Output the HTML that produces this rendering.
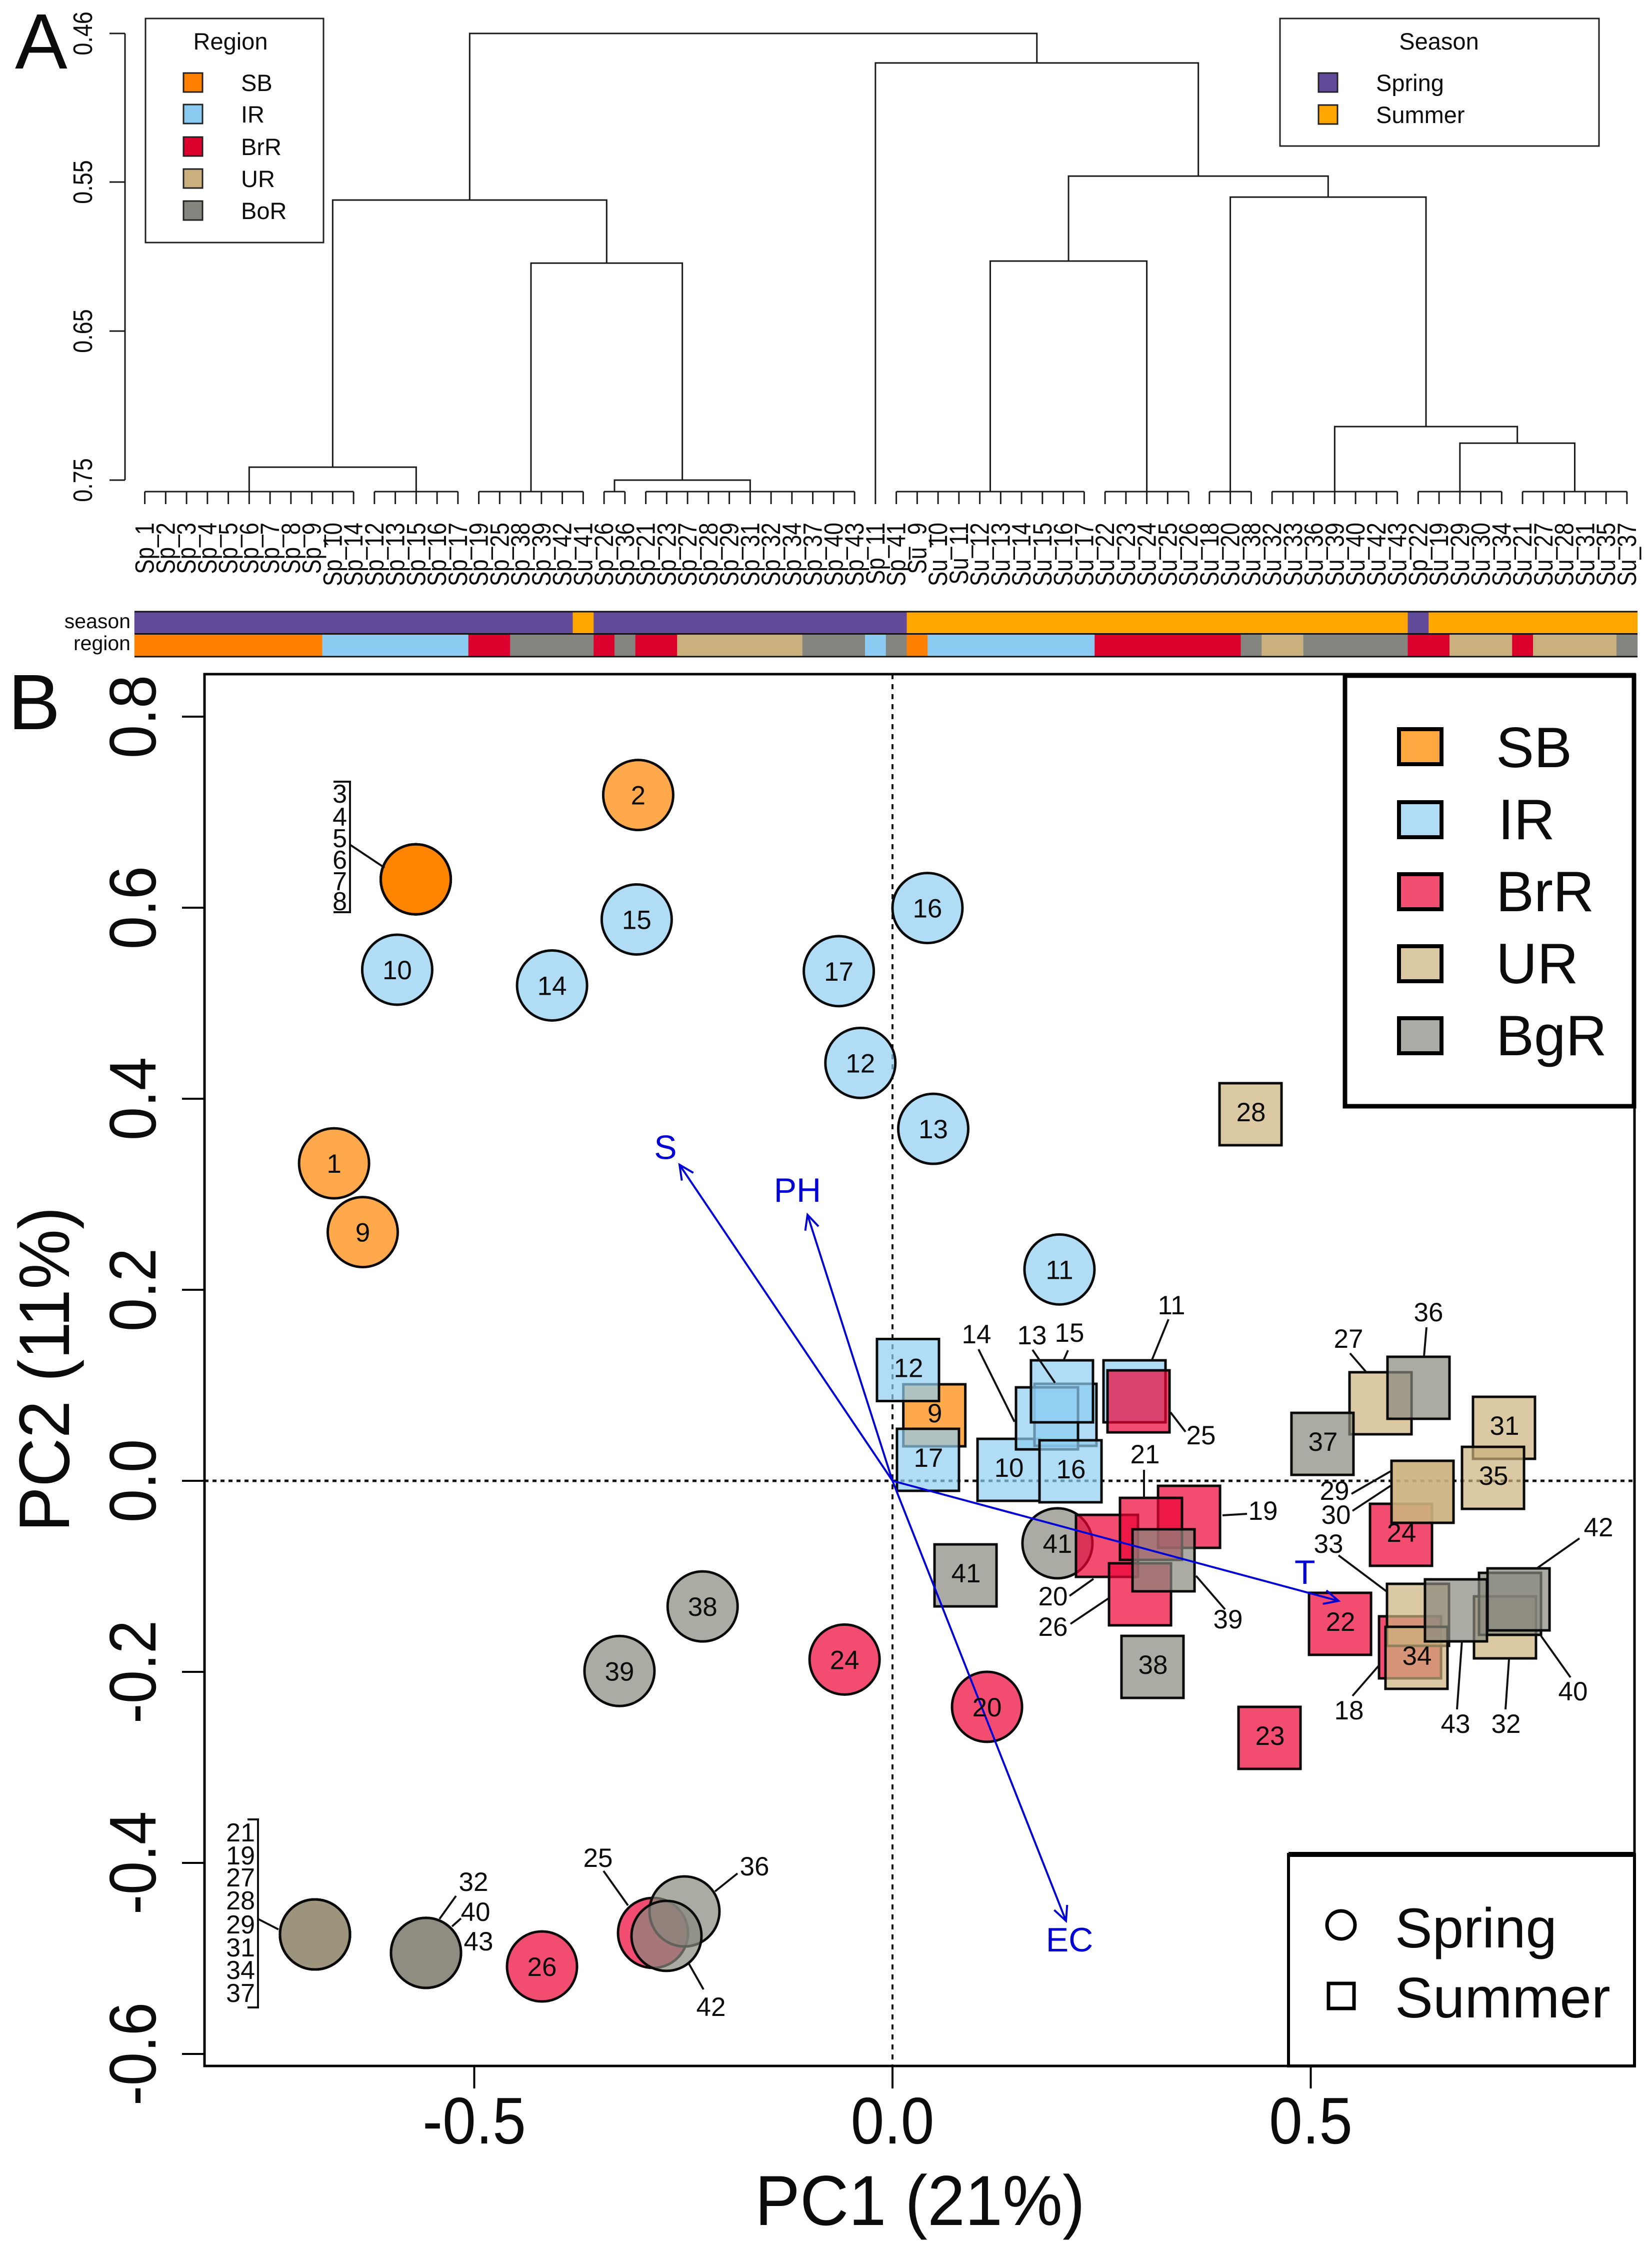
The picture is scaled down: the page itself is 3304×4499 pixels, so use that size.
<!DOCTYPE html>
<html lang="en">
<head>
<meta charset="utf-8">
<title>Dendrogram and PCA biplot by region and season</title>
<style>
html,body{margin:0;padding:0;background:#fff}
svg{display:block}
text{font-family:"Liberation Sans",sans-serif;fill:#0c0c0c}
</style>
</head>
<body>
<svg id="fig" xmlns="http://www.w3.org/2000/svg" width="3304" height="4499" viewBox="0 0 3304 4499">
<rect width="3304" height="4499" fill="#fff"/>
<text x="30" y="137" font-size="157">A</text>
<text x="16" y="1458" font-size="157">B</text>

<g id="dendroAxis"></g>
<g id="dendro" fill="none" stroke="#1a1a1a" stroke-width="3"></g>
<g id="leafLabels"></g>
<g id="annot"></g>
<text x="261" y="1256" font-size="41" text-anchor="end">season</text>
<text x="261" y="1300" font-size="41" text-anchor="end">region</text>

<g>
  <rect x="291" y="37" width="356" height="448" fill="#fff" stroke="#222" stroke-width="3"/>
  <text x="461" y="99" font-size="47" text-anchor="middle">Region</text>
  <g stroke="#222" stroke-width="3">
    <rect x="367" y="146" width="38" height="38" fill="#FF8000"/>
    <rect x="367" y="209" width="38" height="38" fill="#8CCBF1"/>
    <rect x="367" y="274" width="38" height="38" fill="#DC002D"/>
    <rect x="367" y="338" width="38" height="38" fill="#CAB07D"/>
    <rect x="367" y="402" width="38" height="38" fill="#858580"/>
  </g>
  <g font-size="47">
    <text x="482" y="182">SB</text>
    <text x="482" y="245">IR</text>
    <text x="482" y="310">BrR</text>
    <text x="482" y="374">UR</text>
    <text x="482" y="438">BoR</text>
  </g>
</g>
<g>
  <rect x="2560" y="37" width="638" height="255" fill="#fff" stroke="#222" stroke-width="3"/>
  <text x="2878" y="99" font-size="47" text-anchor="middle">Season</text>
  <rect x="2637" y="146" width="38" height="38" fill="#624A9A" stroke="#222" stroke-width="3"/>
  <rect x="2637" y="210" width="38" height="38" fill="#FFA600" stroke="#222" stroke-width="3"/>
  <text x="2752" y="182" font-size="47">Spring</text>
  <text x="2752" y="246" font-size="47">Summer</text>
</g>

<g id="plotLines"></g>
<g id="points"></g>
<g id="arrows"></g>
<g id="pointLabels"></g>

<g stroke="#111" stroke-width="4" fill="none">
  <path d="M2337 2638L2304 2719M1957 2698L2029 2843M2065 2699L2110 2765M2136 2700L2128 2718M2341 2824L2371 2863M2288 2939L2288 2995M2445 3030L2494 3027M2139 3191L2187 3157M2141 3247L2217 3196M2392 3151L2450 3218M2700 2706L2732 2743M2853 2654L2848 2712M2703 2987L2781 2942M2705 3021L2781 2971M2677 3110L2773 3182M3159 3076L3075 3135M2705 3391L2758 3330M2914 3418L2924 3280M3011 3418L3018 3318M3141 3354L3082 3271"/>
  <path d="M516 3837L557 3858M912 3791L879 3837M922 3836L904 3852M1207 3741L1256 3810M1475 3746L1430 3782M1378 3927L1407 3978"/>
  <path d="M495 3638H516V4014H495"/>
  <path d="M667 1563H700V1824H667M700 1689L769 1735"/>
</g>
<g font-size="53" text-anchor="middle">
  <text x="2343" y="2628">11</text>
  <text x="1953" y="2686">14</text>
  <text x="2064" y="2688">13</text>
  <text x="2139" y="2683">15</text>
  <text x="2402" y="2888">25</text>
  <text x="2290" y="2926">21</text>
  <text x="2526" y="3039">19</text>
  <text x="2106" y="3210">20</text>
  <text x="2106" y="3271">26</text>
  <text x="2456" y="3256">39</text>
  <text x="2697" y="2695">27</text>
  <text x="2857" y="2642">36</text>
  <text x="2669" y="2999">29</text>
  <text x="2672" y="3047">30</text>
  <text x="2657" y="3105">33</text>
  <text x="3197" y="3072">42</text>
  <text x="2698" y="3438">18</text>
  <text x="2911" y="3465">43</text>
  <text x="3012" y="3465">32</text>
  <text x="3146" y="3400">40</text>
</g>
<g font-size="53" text-anchor="middle">
  <text x="947" y="3781">32</text>
  <text x="951" y="3841">40</text>
  <text x="957" y="3900">43</text>
  <text x="1196" y="3733">25</text>
  <text x="1509" y="3750">36</text>
  <text x="1422" y="4031">42</text>
</g>
<g font-size="52" text-anchor="end">
  <text x="510" y="3682">21</text>
  <text x="510" y="3728">19</text>
  <text x="510" y="3772">27</text>
  <text x="510" y="3818">28</text>
  <text x="510" y="3866">29</text>
  <text x="510" y="3912">31</text>
  <text x="510" y="3957">34</text>
  <text x="510" y="4003">37</text>
</g>
<g font-size="52" text-anchor="end">
  <text x="694" y="1605">3</text>
  <text x="694" y="1651">4</text>
  <text x="694" y="1694">5</text>
  <text x="694" y="1737">6</text>
  <text x="694" y="1780">7</text>
  <text x="694" y="1820">8</text>
</g>

<g>
  <rect x="2690" y="1351" width="578" height="861" fill="#fff" stroke="#000" stroke-width="9"/>
  <g stroke="#000" stroke-width="8">
    <rect x="2798" y="1458" width="85" height="70" fill="#FFA940"/>
    <rect x="2798" y="1604" width="85" height="70" fill="#B0DCF6"/>
    <rect x="2798" y="1748" width="85" height="70" fill="#F24E72"/>
    <rect x="2798" y="1892" width="85" height="70" fill="#DBC9A4"/>
    <rect x="2798" y="2036" width="85" height="70" fill="#ABABA5"/>
  </g>
  <g font-size="114">
    <text x="2992" y="1534">SB</text>
    <text x="2996" y="1678">IR</text>
    <text x="2992" y="1822">BrR</text>
    <text x="2992" y="1966">UR</text>
    <text x="2992" y="2110">BgR</text>
  </g>
</g>
<g>
  <rect x="2577" y="3708" width="692" height="423" fill="#fff" stroke="#000" stroke-width="6"/>
  <path d="M2577 3708H3269" stroke="#000" stroke-width="10" fill="none"/>
  <circle cx="2682" cy="3849" r="28" fill="none" stroke="#000" stroke-width="7"/>
  <rect x="2657" y="3966" width="51" height="50" fill="none" stroke="#000" stroke-width="7"/>
  <text x="2790" y="3894" font-size="112">Spring</text>
  <text x="2790" y="4034" font-size="114">Summer</text>
</g>
<rect x="409" y="1348" width="2860" height="2783" fill="none" stroke="#000" stroke-width="5"/>
<g id="pcaAxes"></g>
<text transform="translate(1840,4449) scale(1,1.05)" font-size="135" text-anchor="middle">PC1 (21%)</text>
<text transform="translate(138,2738) rotate(-90) scale(1,1.06)" font-size="135" text-anchor="middle">PC2 (11%)</text>
</svg>
<script>
/* ---------- Dendrogram data ---------- */
const leafLabels = ["Sp_1","Sp_2","Sp_3","Sp_4","Sp_5","Sp_6","Sp_7","Sp_8","Sp_9","Sp_10","Sp_14","Sp_12","Sp_13","Sp_15","Sp_16","Sp_17","Sp_19","Sp_25","Sp_38","Sp_39","Sp_42","Su_41","Sp_26","Sp_36","Sp_21","Sp_23","Sp_27","Sp_28","Sp_29","Sp_31","Sp_32","Sp_34","Sp_37","Sp_40","Sp_43","Sp_11","Sp_41","Su_9","Su_10","Su_11","Su_12","Su_13","Su_14","Su_15","Su_16","Su_17","Su_22","Su_23","Su_24","Su_25","Su_26","Su_18","Su_20","Su_38","Su_32","Su_33","Su_36","Su_39","Su_40","Su_42","Su_43","Sp_22","Su_19","Su_29","Su_30","Su_34","Su_21","Su_27","Su_28","Su_31","Su_35","Su_37"];
const leafRegions = ["SB","SB","SB","SB","SB","SB","SB","SB","SB","IR","IR","IR","IR","IR","IR","IR","BrR","BrR","BoR","BoR","BoR","BoR","BrR","BoR","BrR","BrR","UR","UR","UR","UR","UR","UR","BoR","BoR","BoR","IR","BoR","SB","IR","IR","IR","IR","IR","IR","IR","IR","BrR","BrR","BrR","BrR","BrR","BrR","BrR","BoR","UR","UR","BoR","BoR","BoR","BoR","BoR","BrR","BrR","UR","UR","UR","BrR","UR","UR","UR","UR","BoR"];
const clusterFirst = [0,11,16,22,24,35,36,46,51,54,61,66];
const clusterLast = [10,15,21,23,34,35,45,50,53,60,65,71];
const clusterHeight = 0.7577;
const mergeLeft = [0,3,2,12,10,9,8,6,19,5,15];
const mergeRight = [1,4,13,14,11,16,17,7,18,20,21];
const mergeHeight = [0.7413,0.75,0.6044,0.5621,0.7252,0.7141,0.5601,0.6030,0.5460,0.4701,0.4503];
const dendroTickValues = [0.4503,0.55,0.65,0.75];
const dendroTickLabels = ["0.46","0.55","0.65","0.75"];

/* ---------- PCA data ---------- */
const springId = [1,2,3,4,5,6,7,8,9,10,11,12,13,14,15,16,17,19,20,21,24,25,26,27,28,29,31,32,34,36,37,38,39,40,41,42,43];
const springRegion = ["SB","SB","SB","SB","SB","SB","SB","SB","SB","IR","IR","IR","IR","IR","IR","IR","IR","BrR","BrR","BrR","BrR","BrR","BrR","UR","UR","UR","UR","UR","UR","BgR","BgR","BgR","BgR","BgR","BgR","BgR","BgR"];
const springPC1 = [-0.6676,-0.304,-0.5699,-0.5699,-0.5699,-0.5699,-0.5699,-0.5699,-0.6333,-0.5921,0.1996,-0.0384,0.0487,-0.407,-0.3058,0.0418,-0.0642,-0.6904,0.113,-0.6904,-0.0573,-0.2863,-0.419,-0.6904,-0.6904,-0.6904,-0.6904,-0.5577,-0.6904,-0.2487,-0.6904,-0.227,-0.3264,-0.5577,0.1972,-0.2702,-0.5577];
const springPC2 = [0.3324,0.718,0.6297,0.6297,0.6297,0.6297,0.6297,0.6297,0.2604,0.5351,0.2213,0.4375,0.3685,0.5186,0.5877,0.5997,0.5336,-0.4749,-0.2366,-0.4749,-0.1871,-0.4733,-0.5084,-0.4749,-0.4749,-0.4749,-0.4749,-0.4942,-0.4749,-0.4508,-0.4749,-0.1315,-0.1991,-0.4942,-0.0654,-0.4764,-0.4942];
const springInlineLabels = [1,2,9,10,11,12,13,14,15,16,17,20,24,26,38,39,41];

const summerId = [9,10,11,12,13,14,15,16,17,18,19,20,21,22,23,24,25,26,27,28,29,30,31,32,33,34,35,36,37,38,39,40,41,42,43];
const summerRegion = ["SB","IR","IR","IR","IR","IR","IR","IR","IR","BrR","BrR","BrR","BrR","BrR","BrR","BrR","BrR","BrR","UR","UR","UR","UR","UR","UR","UR","UR","UR","BgR","BgR","BgR","BgR","BgR","BgR","BgR","BgR"];
const summerPC1 = [0.05,0.1387,0.2893,0.0185,0.2068,0.1847,0.2026,0.2128,0.0424,0.6187,0.3545,0.2564,0.309,0.535,0.4507,0.6079,0.2941,0.2959,0.5834,0.428,0.6336,0.6336,0.731,0.7322,0.6282,0.6264,0.7179,0.6288,0.514,0.3108,0.324,0.7382,0.0873,0.7484,0.6736];
const summerPC2 = [0.0686,0.0115,0.0937,0.116,0.0691,0.0654,0.0937,0.01,0.022,-0.1743,-0.0377,-0.0681,-0.0503,-0.1497,-0.2691,-0.0565,0.0832,-0.1188,0.0812,0.3838,-0.0115,-0.0115,0.0555,-0.1534,-0.1403,-0.1853,0.0031,0.0974,0.0387,-0.1948,-0.0832,-0.1288,-0.099,-0.1241,-0.1356];
const summerInlineLabels = [9,10,12,16,17,22,23,24,28,31,34,35,37,38,41];

const envNames = ["S","PH","T","EC"];
const envPC1 = [-0.2546,-0.1016,0.5332,0.2074];
const envPC2 = [0.3309,0.2785,-0.1257,-0.4607];
const envLabelPC1 = [-0.2714,-0.1136,0.493,0.2116];
const envLabelPC2 = [0.35,0.3052,-0.0948,-0.4796];

const xTicks = [-0.5,0,0.5];
const xTickLabels = ["-0.5","0.0","0.5"];
const yTicks = [-0.6,-0.4,-0.2,0,0.2,0.4,0.6,0.8];
const yTickLabels = ["-0.6","-0.4","-0.2","0.0","0.2","0.4","0.6","0.8"];

/* ---------- Palettes ---------- */
const barColors = {SB:"#FF8000",IR:"#8CCBF1",BrR:"#DC002D",UR:"#CAB07D",BoR:"#858580"};
const seasonColors = {Sp:"#624A9A",Su:"#FFA600"};
const pointColors = {SB:"#FF8400",IR:"#8ECDF2",BrR:"#EC0235",UR:"#CCB27D",BgR:"#87877E"};

/* ---------- Helpers ---------- */
const NS = "http://www.w3.org/2000/svg";
function mk(parentId, tag, attrs, txt){
  const el = document.createElementNS(NS, tag);
  for (const k in attrs) el.setAttribute(k, attrs[k]);
  if (txt !== undefined) el.textContent = txt;
  document.getElementById(parentId).appendChild(el);
  return el;
}
/* axis functions */
const dendroY = h => 364 + (h - 0.55) * 2980;
const leafX = i => 289.6 + i * 41.75;
const pcaX = v => 1785 + v * 1673;
const pcaY = v => 2961 - v * 1910;

/* ---------- Dendrogram y axis ---------- */
{
  const axisLine = mk("dendroAxis","path",{d:"M250 "+dendroY(dendroTickValues[0])+"V"+dendroY(dendroTickValues[3]),stroke:"#1a1a1a","stroke-width":3,fill:"none"});
  
  
  dendroTickValues.forEach((t,i)=>{
    const tick = mk("dendroAxis","line",{x1:219,x2:250,y1:dendroY(t),y2:dendroY(t),stroke:"#1a1a1a","stroke-width":3});
    
    
    const lab = mk("dendroAxis","text",{transform:"translate(184,"+dendroY(t)+") rotate(-90) scale(1,1.2)","font-size":45,"text-anchor":"middle"},dendroTickLabels[i]);
    
    
  });
}

/* ---------- Dendrogram tree ---------- */
{
  const nodeX = [], nodeH = [];
  clusterFirst.forEach((first,c)=>{
    const last = clusterLast[c];
    nodeX[c] = leafX((first + last) / 2);
    nodeH[c] = clusterHeight;
    if (first !== last){
      const bar = mk("dendro","line",{x1:leafX(first),x2:leafX(last),y1:dendroY(clusterHeight),y2:dendroY(clusterHeight)});
      
      
    }
    for (let i = first; i <= last; i++){
      const leaf = mk("dendro","line",{x1:leafX(i),x2:leafX(i),y1:dendroY(clusterHeight),y2:dendroY(clusterHeight)+25});
      
      
    }
  });
  mergeHeight.forEach((h,m)=>{
    const id = clusterFirst.length + m;
    const a = mergeLeft[m], b = mergeRight[m];
    nodeX[id] = (nodeX[a] + nodeX[b]) / 2;
    nodeH[id] = h;
    const d = "M"+nodeX[a]+" "+dendroY(nodeH[a])+"V"+dendroY(h)+"H"+nodeX[b]+"V"+dendroY(nodeH[b]);
    const link = mk("dendro","path",{d:d});
    
    
  });
}

/* ---------- Leaf labels and annotation bars ---------- */
leafLabels.forEach((name,i)=>{
  const lab = mk("leafLabels","text",{transform:"translate("+(leafX(i)+18)+",1045) rotate(-90) scale(1,1.2)","font-size":44,"text-anchor":"end"},name);
  
  
  const sx = leafX(i) - 20.875;
  const seasonCell = mk("annot","rect",{x:sx,y:1223,width:42.2,height:44,fill:seasonColors[name.slice(0,2)]});
  
  
  const regionCell = mk("annot","rect",{x:sx,y:1268,width:42.2,height:45,fill:barColors[leafRegions[i]]});
  
  
});
{
  const rules = mk("annot","path",{d:"M269 1223H3275M269 1267.5H3275M269 1313H3275",stroke:"#111","stroke-width":3,fill:"none"});
  
  
}

/* ---------- Reference lines ---------- */
{
  const h0 = mk("plotLines","line",{x1:409,x2:3269,y1:pcaY(0),y2:pcaY(0),stroke:"#111","stroke-width":5,"stroke-dasharray":"8 8"});
  
  
  const v0 = mk("plotLines","line",{x1:pcaX(0),x2:pcaX(0),y1:1348,y2:4131,stroke:"#111","stroke-width":4,"stroke-dasharray":"10 10"});
  
  
}

/* ---------- Points ---------- */
springId.forEach((id,i)=>{
  const c = mk("points","circle",{cx:pcaX(springPC1[i]),cy:pcaY(springPC2[i]),r:70,fill:pointColors[springRegion[i]],"fill-opacity":0.7,stroke:"#0a0a0a","stroke-width":5});
  
  
  if (springInlineLabels.includes(id)){
    const t = mk("pointLabels","text",{x:pcaX(springPC1[i]),y:pcaY(springPC2[i])+19,"font-size":53,"text-anchor":"middle"},id);
    
    
  }
});
summerId.forEach((id,i)=>{
  const px = pcaX(summerPC1[i]), py = pcaY(summerPC2[i]);
  const s = mk("points","rect",{x:px-62,y:py-62,width:124,height:124,fill:pointColors[summerRegion[i]],"fill-opacity":0.7,stroke:"#0a0a0a","stroke-width":5});
  
  
  if (summerInlineLabels.includes(id)){
    const t = mk("pointLabels","text",{x:px+1,y:py+14,"font-size":53,"text-anchor":"middle"},id);
    
    
  }
});

/* ---------- Environment vectors ---------- */
envNames.forEach((name,i)=>{
  const x0 = pcaX(0), y0 = pcaY(0), x1 = pcaX(envPC1[i]), y1 = pcaY(envPC2[i]);
  const ang = Math.atan2(y1 - y0, x1 - x0), hl = 32, sp = Math.PI / 7;
  const d = "M"+x0+" "+y0+"L"+x1+" "+y1+
    "M"+(x1-hl*Math.cos(ang-sp))+" "+(y1-hl*Math.sin(ang-sp))+"L"+x1+" "+y1+
    "L"+(x1-hl*Math.cos(ang+sp))+" "+(y1-hl*Math.sin(ang+sp));
  const arrow = mk("arrows","path",{d:d,fill:"none",stroke:"#0000D6","stroke-width":4});
  
  
  const lab = mk("arrows","text",{x:pcaX(envLabelPC1[i]),y:pcaY(envLabelPC2[i])+25,"font-size":68,"text-anchor":"middle",style:"fill:#0000D6"},name);
  
  
});

/* ---------- PCA axes ---------- */
xTicks.forEach((t,i)=>{
  const tick = mk("pcaAxes","line",{x1:pcaX(t),x2:pcaX(t),y1:4131,y2:4176,stroke:"#000","stroke-width":4});
  
  
  const lab = mk("pcaAxes","text",{transform:"translate("+pcaX(t)+",4286) scale(1,1.1)","font-size":120,"text-anchor":"middle"},xTickLabels[i]);
  
  
});
yTicks.forEach((t,i)=>{
  const tick = mk("pcaAxes","line",{x1:364,x2:409,y1:pcaY(t),y2:pcaY(t),stroke:"#000","stroke-width":4});
  
  
  const lab = mk("pcaAxes","text",{transform:"translate(311,"+pcaY(t)+") rotate(-90) scale(1,1.1)","font-size":120,"text-anchor":"middle"},yTickLabels[i]);
  
  
});
</script>
</body>
</html>
